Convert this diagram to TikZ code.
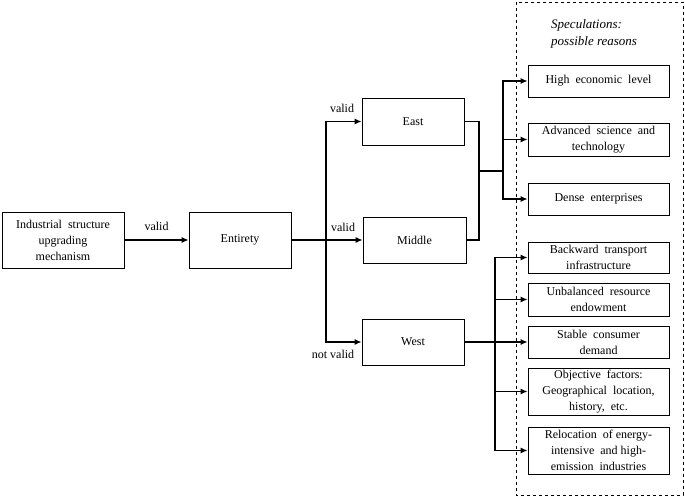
\documentclass[tikz,border=0pt]{standalone}
\usepackage{fontspec}
\setmainfont{Liberation Serif}
\usetikzlibrary{arrows.meta}
\begin{document}
\begin{tikzpicture}[x=1pt,y=-1pt,
  box/.style={draw, line width=0.8pt, align=center, inner sep=1pt, font=\fontsize{12}{16}\selectfont},
  rbox/.style={box, minimum width=141pt},
  conn/.style={line width=1.3pt},
  arr/.style={conn, -{Latex[length=7pt,width=6pt]}},
  lbl/.style={font=\fontsize{12}{14}\selectfont, inner sep=0pt}]
\useasboundingbox (0,0) rectangle (685,497);
% left and middle boxes
\node[box, minimum width=122pt, minimum height=56pt] (ind) at (63,240) {Industrial\ \ structure\\upgrading\\mechanism};
\node[box, minimum width=102pt, minimum height=56pt] (ent) at (240,240) {Entirety};
\node[box, minimum width=102pt, minimum height=47pt] (east) at (413,121.5) {East};
\node[box, minimum width=103pt, minimum height=46pt] (mid) at (414.5,240) {Middle};
\node[box, minimum width=102pt, minimum height=46pt] (west) at (413,342) {West};
% dashed frame
\draw[dashed, line width=0.7pt] (516,2) rectangle (683,495);
\node[lbl, font=\fontsize{13}{17.5}\selectfont\itshape, align=left, anchor=west] (spec) at (551,34) {Speculations:\\possible reasons};
% right boxes
\node[rbox, minimum height=32pt] (high) at (598.5,81) {High\ \ economic\ \ level};
\node[rbox, minimum height=33pt] (adv) at (598.5,139.5) {Advanced\ \ science\ \ and\\technology};
\node[rbox, minimum height=32pt] (dense) at (598.5,199) {Dense\ \ enterprises};
\node[rbox, minimum height=31pt] (back) at (598.5,257.5) {Backward\ \ transport\\infrastructure};
\node[rbox, minimum height=33pt] (unbal) at (598.5,299.5) {Unbalanced\ \ resource\\endowment};
\node[rbox, minimum height=32pt] (stable) at (598.5,342) {Stable\ \ consumer\\demand};
\node[rbox, minimum height=47pt] (obj) at (598.5,391.5) {Objective\ \ factors:\\Geographical\ \ location,\\history,\ \ etc.};
\node[rbox, minimum height=47pt] (reloc) at (598.5,450.5) {Relocation\ \ of energy-\\intensive\ \ and high-\\emission\ \ industries};
% connectors
\draw[arr] (ind) -- (ent) node[lbl, midway, above=9pt] {valid};
\coordinate (b1) at (326,240);
\draw[conn] (ent.east) -- (b1);
\draw[arr] (b1) |- (east.west);
\draw[arr] (b1) -- (mid.west);
\draw[arr] (b1) |- (west.west);
\node[lbl] (v1) at (342,108) {valid};
\node[lbl] (v2) at (343,227) {valid};
\node[lbl] (v3) at (333,354) {not valid};
\coordinate (j1) at (479,171);
\coordinate (j2) at (503,171);
\draw[conn] (east.east) -| (j1) |- (mid.east);
\draw[conn] (j1) -- (j2);
\draw[arr] (j2) |- (high.west);
\draw[arr] (j2) |- (adv.west);
\draw[arr] (j2) |- (dense.west);
\coordinate (j3) at (495,342);
\draw[arr] (west.east) -- (stable.west);
\draw[arr] (j3) |- (back.west);
\draw[arr] (j3) |- (unbal.west);
\draw[arr] (j3) |- (obj.west);
\draw[arr] (j3) |- (reloc.west);
\end{tikzpicture}
\end{document}
